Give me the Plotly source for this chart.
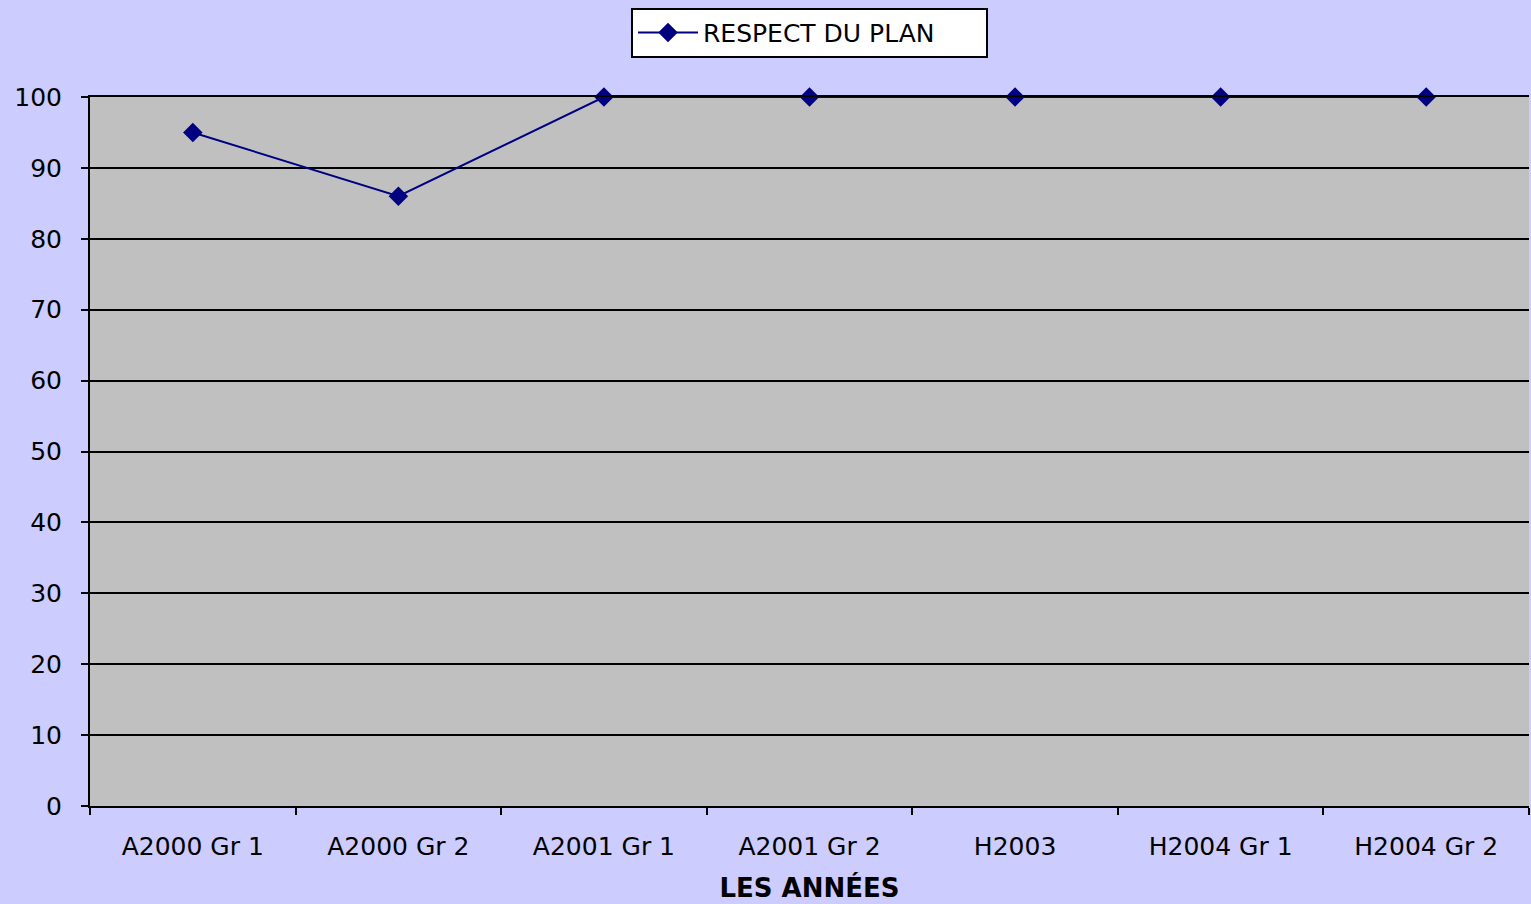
import plotly.graph_objects as go

categories = ["A2000 Gr 1", "A2000 Gr 2", "A2001 Gr 1", "A2001 Gr 2",
              "H2003", "H2004 Gr 1", "H2004 Gr 2"]
respect_du_plan = [95, 86, 100, 100, 100, 100, 100]

font_family = "Verdana, DejaVu Sans, sans-serif"

fig = go.Figure()

fig.add_trace(
    go.Scatter(
        x=categories,
        y=respect_du_plan,
        mode="lines+markers",
        name="RESPECT DU PLAN",
        line={"color": "#000080", "width": 2},
        marker={"symbol": "diamond", "size": 15, "color": "#000080"},
        cliponaxis=False,
    )
)

fig.update_layout(
    width=1531,
    height=904,
    paper_bgcolor="#CCCCFF",
    plot_bgcolor="#C0C0C0",
    margin={"l": 90, "r": 2, "t": 97, "b": 98},
    font={"family": font_family, "size": 25, "color": "black"},
    showlegend=True,
    legend={
        "orientation": "h",
        "x": 0.5,
        "xanchor": "center",
        "y": 1.126,
        "yanchor": "top",
        "bgcolor": "white",
        "bordercolor": "black",
        "borderwidth": 2,
        "itemwidth": 60,
        "entrywidth": 278,
        "font": {"size": 25},
    },
    xaxis={
        "type": "category",
        "tickson": "boundaries",
        "ticks": "outside",
        "ticklen": 7,
        "tickwidth": 2,
        "tickcolor": "black",
        "ticklabelstandoff": 17,
        "showgrid": False,
        "showline": True,
        "mirror": True,
        "linecolor": "black",
        "linewidth": 2,
        "range": [-0.5, 6.5],
        "title": {"text": "<b>LES ANNÉES</b>", "standoff": 19, "font": {"size": 26}},
    },
    yaxis={
        "range": [0, 100],
        "dtick": 10,
        "ticks": "outside",
        "ticklen": 7,
        "tickwidth": 2,
        "tickcolor": "black",
        "ticklabelstandoff": 14,
        "showgrid": True,
        "gridcolor": "black",
        "gridwidth": 2,
        "showline": True,
        "linecolor": "black",
        "linewidth": 2,
        "zeroline": False,
    },
)

fig.write_html(
    "out.html",
    config={"displayModeBar": False},
    post_script="document.body.style.margin='0';document.body.style.overflow='hidden';",
)
